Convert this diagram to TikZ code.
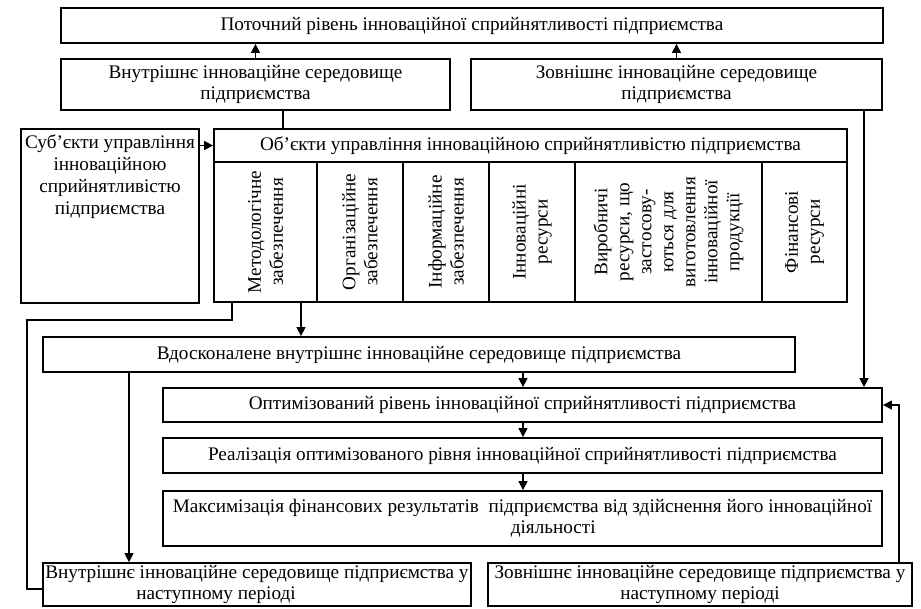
\documentclass[tikz,border=0pt]{standalone}
\usepackage{fontspec}
\setmainfont{Liberation Serif}
\usetikzlibrary{arrows.meta}
\newcommand{\fs}{\fontsize{19.2}{21}\selectfont}
\tikzset{
  box/.style={draw, line width=1.8pt, inner sep=0pt, align=center, font=\fs},
  colbox/.style={draw, line width=1.8pt, inner sep=0pt, align=center, font=\fontsize{19.2}{22}\selectfont, rotate=90, minimum width=140pt},
  txt/.style={inner sep=0pt, align=center, font=\fs},
  conn/.style={line width=1.3pt},
  arr/.style={conn, -{Triangle[length=9pt,width=9pt]}}
}
\begin{document}
\begin{tikzpicture}[x=1pt,y=-1pt]
\useasboundingbox (0,0) rectangle (921,608);
\node[box, minimum width=822pt, minimum height=35pt] (top) at (472,25.5) {Поточний рівень інноваційної сприйнятливості підприємства};
\node[box, minimum width=389pt, minimum height=51pt] (int) at (255.5,84.5) {Внутрішнє інноваційне середовище\\підприємства};
\node[box, minimum width=411pt, minimum height=51pt] (ext) at (676.5,84.5) {Зовнішнє інноваційне середовище\\підприємства};
\node[box, minimum width=178pt, minimum height=174pt] (sub) at (110,216) {};
\node[txt, anchor=north, font=\fontsize{19.2}{22}\selectfont] (subt) at (110,135) {Суб’єкти управління\\інноваційною\\сприйнятливістю\\підприємства};
\node[box, minimum width=633pt, minimum height=33pt] (obj) at (530.5,145.5) {Об’єкти управління інноваційною сприйнятливістю підприємства};
\node[colbox, minimum height=103pt] (c1) at (265.5,232) {Методологічне\\забезпечення};
\node[colbox, minimum height=86pt] (c2) at (360,232) {Організаційне\\забезпечення};
\node[colbox, minimum height=86pt] (c3) at (446,232) {Інформаційне\\забезпечення};
\node[colbox, minimum height=86pt] (c4) at (532,232) {Інноваційні\\ресурси};
\node[colbox, minimum height=187pt] (c5) at (668.5,232) {Виробничі\\ресурси, що\\застосову-\\ються для\\виготовлення\\інноваційної\\продукції};
\node[colbox, minimum height=85pt] (c6) at (804.5,232) {Фінансові\\ресурси};
\node[box, minimum width=752pt, minimum height=35pt] (vd) at (419,354.5) {Вдосконалене внутрішнє інноваційне середовище підприємства};
\node[box, minimum width=719pt, minimum height=34pt] (opt) at (522.5,405) {Оптимізований рівень інноваційної сприйнятливості підприємства};
\node[box, minimum width=719pt, minimum height=35pt] (real) at (522.5,455.5) {Реалізація оптимізованого рівня інноваційної сприйнятливості підприємства};
\node[box, minimum width=719pt, minimum height=55pt] (max) at (522.5,518.5) {};
\node[txt, align=left] (maxt) at (522.5,518.5) {Максимізація фінансових результатів\ \ підприємства від здійснення його інноваційної\\\hspace*{338pt}діяльності};
\node[box, minimum width=428pt, minimum height=43pt] (bl) at (257,584.5) {};
\node[txt, align=left] (blt) at (257,584.5) {Внутрішнє інноваційне середовище підприємства у\\\hspace*{91pt}наступному періоді};
\node[box, minimum width=424pt, minimum height=43pt] (br) at (700,584.5) {Зовнішнє інноваційне середовище підприємства у\\наступному періоді};
% helper coordinates
\coordinate (x27) at (27,0);
\coordinate (x129) at (129,0);
\coordinate (x232) at (232,0);
\coordinate (x283) at (283,0);
\coordinate (x301) at (301,0);
\coordinate (x523) at (523,0);
\coordinate (x864) at (864,0);
\coordinate (x899) at (899,0);
\coordinate (jm) at (27,320);
\coordinate (jb) at (27,589);
% connectors
\draw[arr] (int.north) -- (int.north |- top.south);
\draw[arr] (ext.north) -- (ext.north |- top.south);
\draw[conn] (int.south -| x283) -- (obj.north -| x283);
\draw[arr] (sub.east |- obj.west) -- (obj.west);
\draw[conn] (c1.west -| x232) -- (x232 |- jm) -- (jm) -- (jb) -- (bl.west |- jb);
\draw[arr] (c1.west -| x301) -- (vd.north -| x301);
\draw[arr] (vd.south -| x129) -- (bl.north -| x129);
\draw[arr] (vd.south -| x523) -- (opt.north -| x523);
\draw[arr] (opt.south -| x523) -- (real.north -| x523);
\draw[arr] (real.south -| x523) -- (max.north -| x523);
\draw[arr] (ext.south -| x864) -- (opt.north -| x864);
\draw[arr] (br.north -| x899) |- (opt.east);
\end{tikzpicture}
\end{document}
